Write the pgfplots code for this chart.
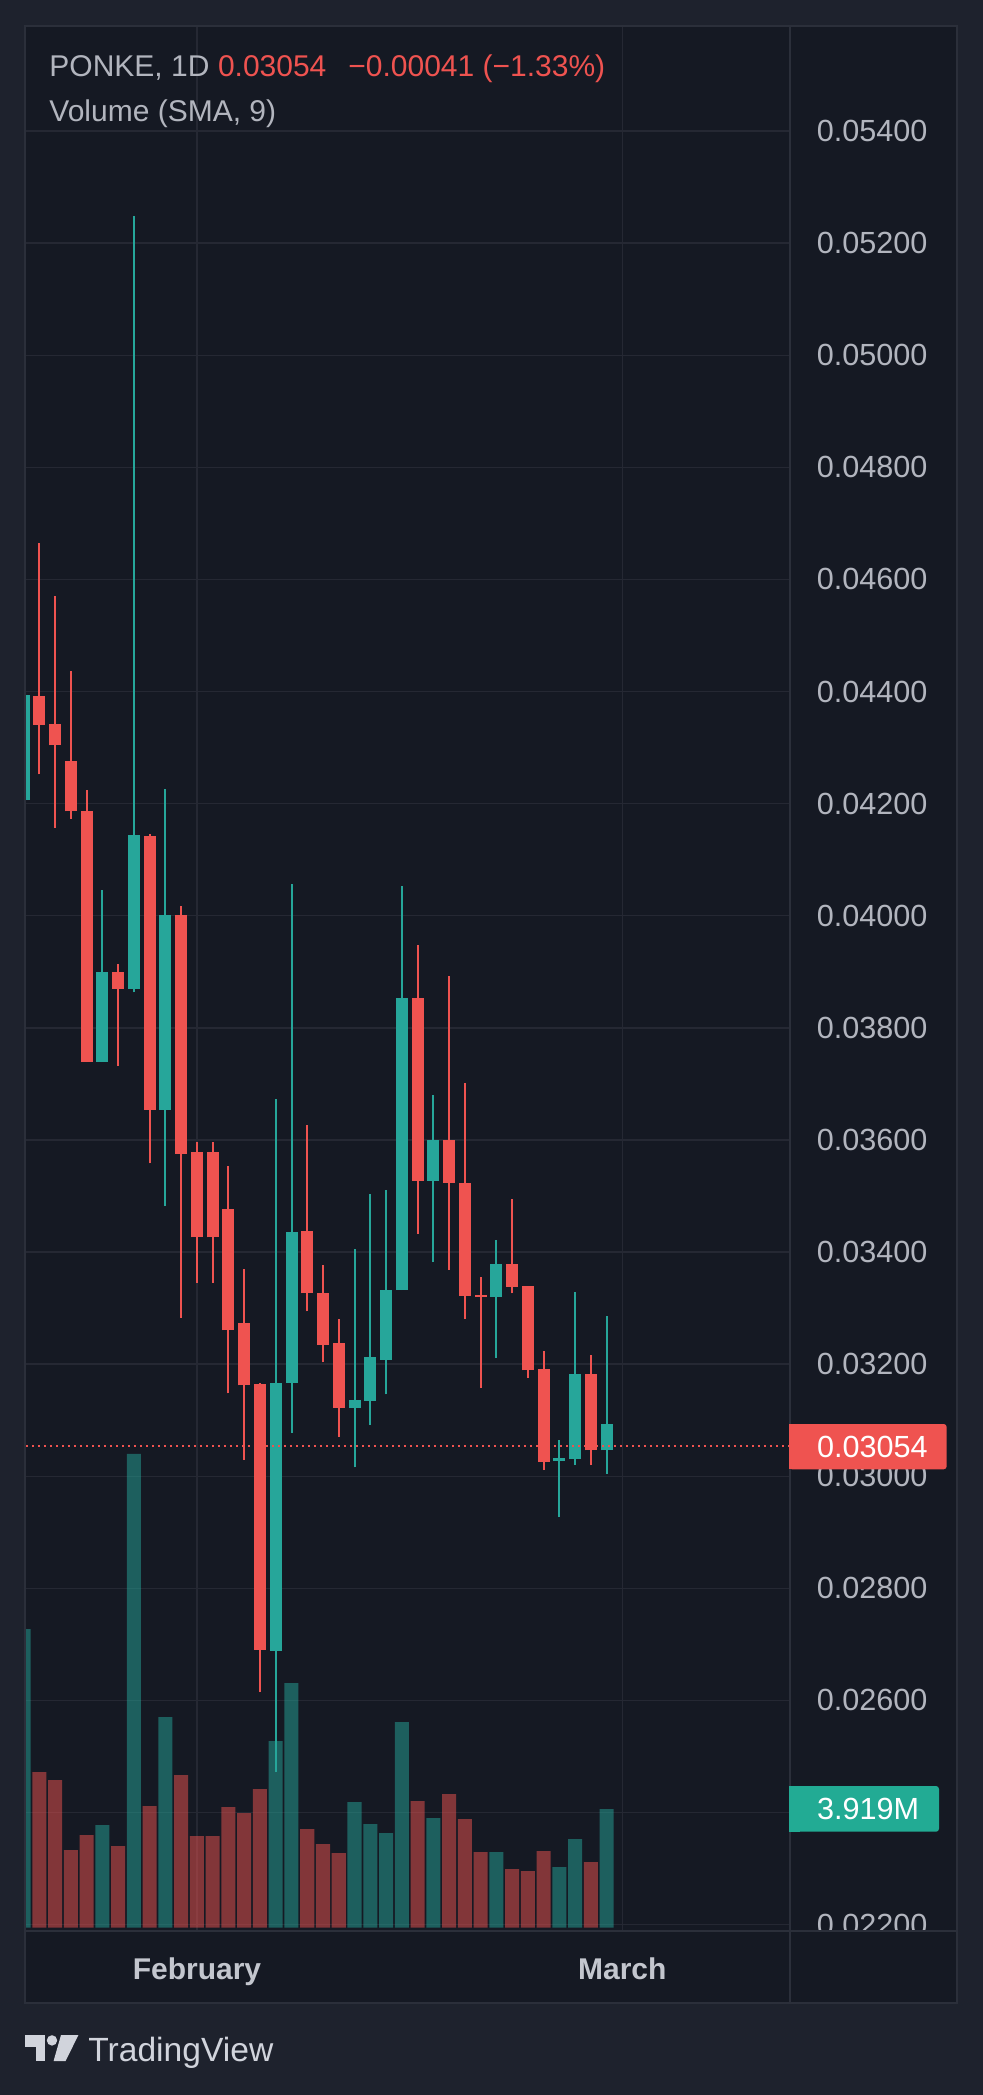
\documentclass[border=0pt]{standalone}
\usepackage{pgfplots}
\usepackage{pgfplotstable}
\pgfplotsset{compat=1.18}
\usepackage{fontspec}
\setmainfont{Liberation Sans}
\definecolor{outerbg}{RGB}{30,34,45}
\definecolor{panebg}{RGB}{21,25,35}
\definecolor{gridc}{RGB}{37,40,51}
\definecolor{framec}{RGB}{43,47,58}
\definecolor{txt}{RGB}{178,181,190}
\definecolor{txtb}{RGB}{195,198,206}
\definecolor{tvred}{RGB}{239,83,80}
\definecolor{tvgreen}{RGB}{38,166,154}
\definecolor{boxgreen}{RGB}{34,171,148}
\definecolor{logoc}{RGB}{209,212,220}

% falling candles: index open high low close volume(M)
\pgfplotstableread{
i o h l c v
-10 0.04392 0.04665 0.04252 0.04341 5.140
-9 0.04342 0.04571 0.04157 0.04304 4.875
-8 0.04276 0.04437 0.04173 0.04186 2.564
-7 0.04186 0.04224 0.03739 0.03739 3.059
-5 0.03900 0.03914 0.03732 0.03870 2.696
-3 0.04142 0.04146 0.03558 0.03654 4.017
-1 0.04001 0.04018 0.03283 0.03575 5.040
0 0.03579 0.03597 0.03345 0.03426 3.026
1 0.03579 0.03597 0.03345 0.03426 3.026
2 0.03476 0.03554 0.03148 0.03260 3.984
3 0.03273 0.03369 0.03029 0.03162 3.786
4 0.03164 0.03167 0.02615 0.02690 4.578
7 0.03438 0.03627 0.03294 0.03326 3.257
8 0.03326 0.03376 0.03203 0.03234 2.762
9 0.03237 0.03280 0.03070 0.03122 2.465
14 0.03854 0.03947 0.03433 0.03527 4.182
16 0.03599 0.03892 0.03368 0.03524 4.413
17 0.03523 0.03701 0.03281 0.03322 3.588
18 0.03323 0.03355 0.03157 0.03320 2.498
20 0.03378 0.03494 0.03326 0.03338 1.937
21 0.03339 0.03339 0.03176 0.03189 1.871
22 0.03192 0.03224 0.03011 0.03025 2.531
25 0.03183 0.03217 0.03020 0.03046 2.168
}\down

% rising candles
\pgfplotstableread{
i o h l c v
-11 0.04206 0.04400 0.04200 0.04394 9.860
-6 0.03739 0.04045 0.03739 0.03900 3.389
-4 0.03870 0.05248 0.03863 0.04144 15.640
-2 0.03654 0.04226 0.03482 0.04001 6.955
5 0.02689 0.03673 0.02472 0.03167 6.163
6 0.03167 0.04056 0.03078 0.03435 8.078
10 0.03122 0.03405 0.03016 0.03136 4.149
11 0.03135 0.03504 0.03092 0.03213 3.422
12 0.03208 0.03511 0.03146 0.03333 3.125
13 0.03332 0.04053 0.03332 0.03854 6.790
15 0.03527 0.03681 0.03382 0.03599 3.621
19 0.03320 0.03421 0.03211 0.03378 2.498
23 0.03027 0.03064 0.02927 0.03032 2.003
24 0.03030 0.03328 0.03020 0.03182 2.927
26 0.03046 0.03285 0.03004 0.03094 3.919
}\up

\pgfplotsset{
  paneaxis/.style={
    at={(12.5pt,-965.5pt)}, anchor=south west,
    scale only axis, width=382.5pt, height=952.5pt,
    xmin=-10.92, xmax=37.65,
  },
  candle/.style={draw=none, mark=none,
    error bars/.cd, y dir=plus, y explicit, error mark=none,
    error bar style={draw=#1, solid}},
}

\begin{document}
\begin{tikzpicture}
% backgrounds
\fill[outerbg] (0pt,0pt) rectangle (491.5pt,-1047.5pt);
\fill[panebg] (12.5pt,-13pt) rectangle (478.5pt,-1001.5pt);

% axis A: grid and labels
\begin{axis}[
  paneaxis,
  ymin=0.021886, ymax=0.055873,
  axis line style={draw=none},
  ytick={0.022,0.024,0.026,0.028,0.030,0.032,0.034,0.036,0.038,0.040,0.042,0.044,0.046,0.048,0.050,0.052,0.054},
  scaled y ticks=false,
  xtick={0,27}, xticklabels={February,March},
  grid=major, major grid style={draw=gridc, line width=0.7pt},
  major tick length=0pt,
  yticklabel pos=right,
  /pgf/number format/assume math mode=true,
  yticklabel={\pgfmathprintnumber[fixed,fixed zerofill,precision=5]{\tick}},
  yticklabel style={anchor=west, inner sep=0pt, xshift=13.25pt, font=\fontsize{15.3}{16}\selectfont, text=txt},
  xticklabel style={anchor=base, inner sep=0pt, yshift=-24pt, font=\bfseries\fontsize{15}{16}\selectfont, text=txtb},
]
\addplot[draw=none] coordinates {(0,0.03)};
\end{axis}

% axis B: volume
\begin{axis}[
  paneaxis, hide axis,
  ymin=-0.109, ymax=62.78,
]
\addplot[ybar, bar width=0.889, bar shift=0pt, fill=tvred, fill opacity=0.5, draw=none] table[x=i, y=v] {\down};
\addplot[ybar, bar width=0.889, bar shift=0pt, fill=tvgreen, fill opacity=0.5, draw=none] table[x=i, y=v] {\up};
\end{axis}

% axis C: candles
\begin{axis}[
  paneaxis, hide axis,
  ymin=0.021886, ymax=0.055873,
]
\addplot[candle=tvred, error bar style={line width=1pt}]
  table[x=i, y=l, y error expr=\thisrow{h}-\thisrow{l}] {\down};
\addplot[candle=tvred, error bar style={line width=6pt}]
  table[x=i, y=c, y error expr=\thisrow{o}-\thisrow{c}] {\down};
\addplot[candle=tvgreen, error bar style={line width=1pt}]
  table[x=i, y=l, y error expr=\thisrow{h}-\thisrow{l}] {\up};
\addplot[candle=tvgreen, error bar style={line width=6pt}]
  table[x=i, y=o, y error expr=\thisrow{c}-\thisrow{o}] {\up};
\addplot[draw=tvred, mark=none, line width=1pt, dash pattern=on 1pt off 2pt] coordinates {(-12,0.03054) (38,0.03054)};
\end{axis}

% cover the price-axis part of the time row
\fill[panebg] (395pt,-965.5pt) rectangle (478.5pt,-1001.5pt);
% frame lines
\draw[framec, line width=1pt] (12.5pt,-13pt) rectangle (478.5pt,-1001.5pt);
\draw[framec, line width=1pt] (12.5pt,-965.5pt) -- (478.5pt,-965.5pt);
\draw[framec, line width=1pt] (395pt,-13pt) -- (395pt,-1001.5pt);

% last price label
\fill[tvred, rounded corners=1.5pt] (394.5pt,-712pt) rectangle (473.35pt,-734.65pt);
\fill[tvred] (394.5pt,-712pt) rectangle (400pt,-734.65pt);
\node[anchor=west, inner sep=0pt, text=white, font=\fontsize{15.3}{16}\selectfont] at (408.35pt,-723.35pt) {0.03054};
% last volume label
\fill[boxgreen, rounded corners=1.5pt] (394.5pt,-893pt) rectangle (469.5pt,-915.85pt);
\fill[boxgreen] (394.5pt,-893pt) rectangle (400pt,-915.85pt);
\node[anchor=west, inner sep=0pt, text=white, font=\fontsize{15.3}{16}\selectfont] at (408.35pt,-904.4pt) {3.919M};

% header
\node[anchor=base west, inner sep=0pt, text=txt, font=\fontsize{15}{18}\selectfont] at (24.5pt,-38.35pt) {PONKE, 1D};
\node[anchor=base west, inner sep=0pt, text=tvred, font=\fontsize{15}{18}\selectfont] at (108.8pt,-38.35pt) {0.03054};
\node[anchor=base west, inner sep=0pt, text=tvred, font=\fontsize{15}{18}\selectfont] at (174pt,-38.35pt) {−0.00041 (−1.33\%)};
\node[anchor=base west, inner sep=0pt, text=txt, font=\fontsize{15}{18}\selectfont] at (24.5pt,-60.5pt) {Volume (SMA, 9)};

% TradingView logo
\fill[logoc] (12.5pt,-1017.5pt) rectangle (22.5pt,-1023.3pt);
\fill[logoc] (17.8pt,-1023.3pt) rectangle (22.5pt,-1030.5pt);
\fill[logoc] (26pt,-1020.2pt) circle (2.6pt);
\fill[logoc] (30.5pt,-1017.5pt) -- (39.2pt,-1017.5pt) -- (32.8pt,-1030.5pt) -- (26.8pt,-1030.5pt) -- cycle;
\node[anchor=base west, inner sep=0pt, text=logoc, font=\fontsize{16.8}{18}\selectfont] at (44pt,-1030.85pt) {TradingView};
\end{tikzpicture}
\end{document}
